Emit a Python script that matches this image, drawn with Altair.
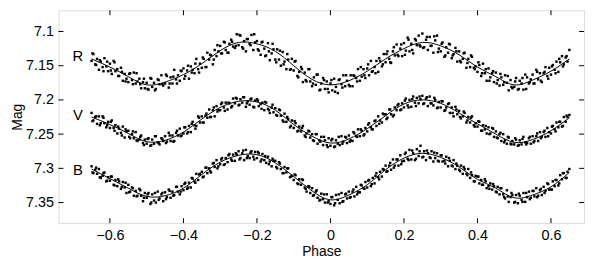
import altair as alt
import pandas as pd

# ---------------- data ----------------
PHASE = [
-0.650,-0.645,-0.640,-0.635,-0.630,-0.625,-0.620,-0.615,-0.610,-0.605,
-0.600,-0.595,-0.590,-0.585,-0.580,-0.575,-0.570,-0.565,-0.560,-0.555,
-0.550,-0.545,-0.540,-0.535,-0.530,-0.525,-0.520,-0.515,-0.510,-0.505,
-0.500,-0.495,-0.490,-0.485,-0.480,-0.475,-0.470,-0.465,-0.460,-0.455,
-0.450,-0.445,-0.440,-0.435,-0.430,-0.425,-0.420,-0.415,-0.410,-0.405,
-0.400,-0.395,-0.390,-0.385,-0.380,-0.375,-0.370,-0.365,-0.360,-0.355,
-0.350,-0.345,-0.340,-0.335,-0.330,-0.325,-0.320,-0.315,-0.310,-0.305,
-0.300,-0.295,-0.290,-0.285,-0.280,-0.275,-0.270,-0.265,-0.260,-0.255,
-0.250,-0.245,-0.240,-0.235,-0.230,-0.225,-0.220,-0.215,-0.210,-0.205,
-0.200,-0.195,-0.190,-0.185,-0.180,-0.175,-0.170,-0.165,-0.160,-0.155,
-0.150,-0.145,-0.140,-0.135,-0.130,-0.125,-0.120,-0.115,-0.110,-0.105,
-0.100,-0.095,-0.090,-0.085,-0.080,-0.075,-0.070,-0.065,-0.060,-0.055,
-0.050,-0.045,-0.040,-0.035,-0.030,-0.025,-0.020,-0.015,-0.010,-0.005,
0.000,0.005,0.010,0.015,0.020,0.025,0.030,0.035,0.040,0.045,
0.050,0.055,0.060,0.065,0.070,0.075,0.080,0.085,0.090,0.095,
0.100,0.105,0.110,0.115,0.120,0.125,0.130,0.135,0.140,0.145,
0.150,0.155,0.160,0.165,0.170,0.175,0.180,0.185,0.190,0.195,
0.200,0.205,0.210,0.215,0.220,0.225,0.230,0.235,0.240,0.245,
0.250,0.255,0.260,0.265,0.270,0.275,0.280,0.285,0.290,0.295,
0.300,0.305,0.310,0.315,0.320,0.325,0.330,0.335,0.340,0.345,
0.350,0.355,0.360,0.365,0.370,0.375,0.380,0.385,0.390,0.395,
0.400,0.405,0.410,0.415,0.420,0.425,0.430,0.435,0.440,0.445,
0.450,0.455,0.460,0.465,0.470,0.475,0.480,0.485,0.490,0.495,
0.500,0.505,0.510,0.515,0.520,0.525,0.530,0.535,0.540,0.545,
0.550,0.555,0.560,0.565,0.570,0.575,0.580,0.585,0.590,0.595,
0.600,0.605,0.610,0.615,0.620,0.625,0.630,0.635,0.640,0.645,
0.650]

R_MAG = [
7.143,7.133,7.148,7.140,7.156,7.144,7.152,7.139,7.151,7.158,
7.147,7.162,7.143,7.158,7.155,7.165,7.153,7.172,7.162,7.169,
7.174,7.161,7.171,7.160,7.176,7.173,7.169,7.183,7.174,7.183,
7.175,7.185,7.168,7.181,7.175,7.184,7.170,7.177,7.164,7.179,
7.176,7.165,7.182,7.167,7.176,7.156,7.170,7.164,7.172,7.158,
7.154,7.165,7.157,7.169,7.151,7.156,7.161,7.140,7.155,7.147,
7.153,7.140,7.152,7.131,7.141,7.135,7.148,7.127,7.136,7.129,
7.121,7.132,7.115,7.127,7.131,7.118,7.112,7.122,7.124,7.104,
7.120,7.106,7.123,7.114,7.129,7.111,7.118,7.105,7.127,7.116,
7.114,7.128,7.134,7.115,7.125,7.135,7.117,7.142,7.132,7.126,
7.141,7.126,7.141,7.150,7.130,7.144,7.155,7.141,7.156,7.140,
7.157,7.143,7.165,7.159,7.152,7.174,7.160,7.173,7.155,7.173,
7.180,7.167,7.178,7.163,7.186,7.176,7.168,7.184,7.173,7.189,
7.176,7.186,7.169,7.181,7.190,7.170,7.177,7.164,7.180,7.172,
7.178,7.164,7.180,7.165,7.168,7.155,7.172,7.166,7.155,7.168,
7.154,7.164,7.143,7.158,7.152,7.143,7.159,7.143,7.151,7.133,
7.145,7.129,7.140,7.146,7.129,7.135,7.119,7.136,7.125,7.136,
7.117,7.128,7.109,7.129,7.118,7.132,7.111,7.120,7.106,7.122,
7.103,7.123,7.112,7.127,7.108,7.121,7.131,7.113,7.106,7.125,
7.129,7.116,7.137,7.123,7.131,7.119,7.139,7.133,7.124,7.144,
7.129,7.145,7.140,7.131,7.153,7.140,7.152,7.137,7.153,7.151,
7.159,7.149,7.165,7.147,7.161,7.172,7.154,7.167,7.161,7.174,
7.160,7.171,7.179,7.167,7.178,7.164,7.175,7.186,7.171,7.183,
7.181,7.168,7.185,7.172,7.176,7.185,7.163,7.167,7.176,7.170,
7.163,7.176,7.156,7.170,7.161,7.174,7.161,7.152,7.165,7.153,
7.163,7.149,7.156,7.144,7.159,7.145,7.136,7.148,7.138,7.144,
7.127]

V_MAG = [
7.219,7.230,7.225,7.235,7.224,7.234,7.224,7.234,7.240,7.232,
7.241,7.230,7.241,7.237,7.249,7.242,7.248,7.239,7.255,7.246,
7.245,7.256,7.250,7.256,7.247,7.260,7.258,7.252,7.263,7.258,
7.264,7.256,7.267,7.258,7.264,7.253,7.262,7.265,7.256,7.260,
7.253,7.261,7.248,7.260,7.252,7.260,7.248,7.252,7.242,7.252,
7.249,7.240,7.249,7.238,7.247,7.232,7.237,7.238,7.224,7.233,
7.224,7.233,7.223,7.226,7.214,7.225,7.215,7.224,7.209,7.215,
7.215,7.204,7.211,7.204,7.214,7.205,7.211,7.198,7.205,7.198,
7.208,7.199,7.204,7.196,7.210,7.202,7.207,7.198,7.210,7.201,
7.199,7.209,7.206,7.204,7.215,7.204,7.213,7.219,7.211,7.218,
7.212,7.223,7.214,7.223,7.230,7.220,7.232,7.228,7.240,7.230,
7.241,7.234,7.246,7.239,7.246,7.238,7.252,7.249,7.245,7.255,
7.250,7.260,7.250,7.264,7.259,7.254,7.266,7.259,7.266,7.256,
7.267,7.257,7.269,7.259,7.264,7.266,7.253,7.261,7.254,7.263,
7.252,7.259,7.260,7.249,7.253,7.243,7.253,7.245,7.252,7.241,
7.246,7.234,7.240,7.243,7.231,7.238,7.224,7.230,7.233,7.221,
7.221,7.226,7.214,7.221,7.224,7.211,7.215,7.206,7.215,7.205,
7.211,7.198,7.208,7.200,7.210,7.195,7.204,7.197,7.205,7.199,
7.194,7.205,7.198,7.209,7.195,7.205,7.208,7.200,7.212,7.203,
7.211,7.202,7.216,7.211,7.206,7.219,7.211,7.224,7.210,7.221,
7.216,7.227,7.224,7.219,7.233,7.225,7.233,7.224,7.237,7.234,
7.239,7.232,7.245,7.237,7.243,7.249,7.240,7.249,7.241,7.254,
7.246,7.256,7.250,7.260,7.250,7.259,7.264,7.255,7.264,7.260,
7.265,7.258,7.267,7.259,7.265,7.254,7.262,7.263,7.256,7.264,
7.253,7.260,7.253,7.260,7.247,7.254,7.247,7.254,7.241,7.247,
7.249,7.238,7.243,7.233,7.240,7.232,7.239,7.225,7.232,7.225,
7.222]

B_MAG = [
7.297,7.307,7.302,7.308,7.301,7.314,7.311,7.306,7.319,7.313,
7.318,7.312,7.324,7.317,7.326,7.319,7.330,7.320,7.328,7.336,
7.324,7.334,7.328,7.340,7.333,7.340,7.330,7.340,7.348,7.336,
7.343,7.336,7.352,7.338,7.347,7.350,7.334,7.344,7.338,7.348,
7.335,7.342,7.331,7.343,7.334,7.339,7.327,7.334,7.338,7.326,
7.332,7.321,7.330,7.321,7.328,7.315,7.319,7.308,7.317,7.308,
7.305,7.312,7.299,7.307,7.300,7.306,7.293,7.298,7.288,7.297,
7.294,7.285,7.295,7.285,7.291,7.279,7.287,7.280,7.289,7.280,
7.275,7.285,7.278,7.288,7.273,7.282,7.285,7.275,7.283,7.276,
7.285,7.278,7.290,7.279,7.288,7.292,7.283,7.290,7.297,7.289,
7.289,7.300,7.291,7.301,7.307,7.298,7.306,7.300,7.313,7.311,
7.317,7.310,7.322,7.316,7.324,7.317,7.328,7.334,7.326,7.336,
7.329,7.339,7.334,7.343,7.347,7.337,7.345,7.350,7.338,7.348,
7.352,7.342,7.354,7.339,7.346,7.351,7.336,7.348,7.338,7.344,
7.334,7.342,7.334,7.341,7.327,7.335,7.335,7.325,7.329,7.320,
7.328,7.317,7.326,7.314,7.322,7.307,7.313,7.305,7.312,7.302,
7.296,7.304,7.296,7.302,7.287,7.296,7.287,7.296,7.281,7.290,
7.289,7.277,7.286,7.273,7.287,7.278,7.288,7.272,7.282,7.267,
7.284,7.275,7.288,7.278,7.284,7.275,7.290,7.285,7.278,7.290,
7.281,7.290,7.289,7.283,7.297,7.289,7.296,7.288,7.301,7.296,
7.302,7.296,7.308,7.301,7.308,7.301,7.314,7.310,7.319,7.311,
7.312,7.322,7.317,7.324,7.316,7.329,7.326,7.322,7.331,7.326,
7.334,7.327,7.338,7.329,7.338,7.344,7.332,7.349,7.342,7.339,
7.350,7.339,7.351,7.340,7.346,7.336,7.349,7.342,7.334,7.343,
7.333,7.341,7.329,7.340,7.332,7.339,7.327,7.333,7.322,7.331,
7.331,7.319,7.326,7.317,7.325,7.310,7.316,7.307,7.314,7.305,
7.301]

# second batch of observations, between the first ones
PHASE2 = [
-0.6475,-0.6375,-0.6275,-0.6175,-0.6075, -0.5975,-0.5875,-0.5775,-0.5675,-0.5575,
-0.5475,-0.5375,-0.5275,-0.5175,-0.5075, -0.4975,-0.4875,-0.4775,-0.4675,-0.4575,
-0.4475,-0.4375,-0.4275,-0.4175,-0.4075, -0.3975,-0.3875,-0.3775,-0.3675,-0.3575,
-0.3475,-0.3375,-0.3275,-0.3175,-0.3075, -0.2975,-0.2875,-0.2775,-0.2675,-0.2575,
-0.2475,-0.2375,-0.2275,-0.2175,-0.2075, -0.1975,-0.1875,-0.1775,-0.1675,-0.1575,
-0.1475,-0.1375,-0.1275,-0.1175,-0.1075, -0.0975,-0.0875,-0.0775,-0.0675,-0.0575,
-0.0475,-0.0375,-0.0275,-0.0175,-0.0075, 0.0025,0.0125,0.0225,0.0325,0.0425,
0.0525,0.0625,0.0725,0.0825,0.0925, 0.1025,0.1125,0.1225,0.1325,0.1425,
0.1525,0.1625,0.1725,0.1825,0.1925, 0.2025,0.2125,0.2225,0.2325,0.2425,
0.2525,0.2625,0.2725,0.2825,0.2925, 0.3025,0.3125,0.3225,0.3325,0.3425,
0.3525,0.3625,0.3725,0.3825,0.3925, 0.4025,0.4125,0.4225,0.4325,0.4425,
0.4525,0.4625,0.4725,0.4825,0.4925, 0.5025,0.5125,0.5225,0.5325,0.5425,
0.5525,0.5625,0.5725,0.5825,0.5925, 0.6025,0.6125,0.6225,0.6325,0.6425]

R_MAG2 = [
7.132,7.149,7.142,7.158,7.144, 7.157,7.145,7.165,7.159,7.173,
7.162,7.177,7.161,7.177,7.169, 7.184,7.169,7.186,7.171,7.177,
7.163,7.176,7.166,7.176,7.157, 7.169,7.150,7.160,7.147,7.160,
7.138,7.152,7.134,7.141,7.120, 7.132,7.116,7.131,7.115,7.121,
7.105,7.125,7.111,7.120,7.104, 7.126,7.116,7.136,7.129,7.118,
7.145,7.128,7.148,7.133,7.155, 7.144,7.167,7.155,7.171,7.155,
7.176,7.163,7.185,7.171,7.184, 7.171,7.188,7.171,7.182,7.164,
7.180,7.164,7.173,7.152,7.164, 7.148,7.159,7.161,7.139,7.148,
7.133,7.145,7.123,7.134,7.119, 7.134,7.112,7.127,7.113,7.120,
7.124,7.108,7.121,7.107,7.130, 7.118,7.135,7.118,7.135,7.129,
7.143,7.132,7.146,7.135,7.155, 7.145,7.161,7.155,7.172,7.158,
7.176,7.162,7.174,7.165,7.181, 7.173,7.184,7.168,7.184,7.174,
7.176,7.159,7.172,7.159,7.169, 7.151,7.161,7.140,7.151,7.136]

V_MAG2 = [
7.231,7.224,7.237,7.226,7.237, 7.232,7.245,7.239,7.252,7.243,
7.254,7.246,7.259,7.254,7.266, 7.257,7.266,7.253,7.263,7.257,
7.263,7.252,7.261,7.245,7.253, 7.240,7.247,7.235,7.242,7.226,
7.233,7.220,7.225,7.211,7.217, 7.206,7.216,7.204,7.209,7.197,
7.207,7.196,7.205,7.199,7.211, 7.201,7.213,7.203,7.215,7.207,
7.222,7.215,7.232,7.225,7.238, 7.231,7.245,7.241,7.254,7.246,
7.259,7.250,7.261,7.254,7.269, 7.259,7.268,7.254,7.264,7.255,
7.261,7.247,7.254,7.243,7.250, 7.236,7.243,7.230,7.235,7.220,
7.228,7.214,7.222,7.208,7.214, 7.201,7.211,7.199,7.209,7.195,
7.206,7.196,7.205,7.197,7.211, 7.202,7.215,7.205,7.219,7.214,
7.225,7.217,7.230,7.226,7.239, 7.231,7.245,7.238,7.250,7.242,
7.255,7.248,7.262,7.254,7.265, 7.256,7.266,7.257,7.265,7.254,
7.262,7.249,7.256,7.245,7.253, 7.239,7.246,7.232,7.238,7.223]

B_MAG2 = [
7.306,7.299,7.313,7.307,7.318, 7.312,7.325,7.316,7.327,7.321,
7.335,7.329,7.341,7.332,7.343, 7.338,7.350,7.336,7.346,7.336,
7.345,7.333,7.340,7.327,7.334, 7.323,7.328,7.314,7.321,7.309,
7.313,7.299,7.304,7.292,7.300, 7.287,7.294,7.281,7.289,7.278,
7.287,7.274,7.285,7.277,7.287, 7.276,7.287,7.282,7.294,7.286,
7.298,7.293,7.307,7.300,7.312, 7.309,7.323,7.316,7.330,7.327,
7.340,7.332,7.346,7.338,7.350, 7.342,7.351,7.338,7.349,7.337,
7.343,7.331,7.338,7.324,7.330, 7.318,7.323,7.311,7.316,7.301,
7.305,7.292,7.299,7.287,7.294, 7.279,7.288,7.274,7.286,7.275,
7.283,7.274,7.285,7.277,7.289, 7.281,7.293,7.285,7.297,7.293,
7.304,7.298,7.310,7.306,7.319, 7.312,7.324,7.319,7.330,7.323,
7.335,7.329,7.342,7.341,7.336, 7.349,7.337,7.349,7.336,7.345,
7.333,7.342,7.330,7.336,7.323, 7.331,7.317,7.322,7.307,7.314]

CURVE_PHASE = [-0.65, -0.60, -0.55, -0.50, -0.45, -0.40, -0.35, -0.30, -0.25,
               -0.20, -0.15, -0.10, -0.05, 0.00, 0.05, 0.10, 0.15, 0.20, 0.25,
               0.30, 0.35, 0.40, 0.45, 0.50, 0.55, 0.60, 0.65]
R_CURVE = [7.140, 7.152, 7.166, 7.178, 7.174, 7.163, 7.147, 7.128, 7.116,
           7.118, 7.129, 7.150, 7.170, 7.178, 7.172, 7.158, 7.140, 7.125, 7.116,
           7.121, 7.134, 7.152, 7.166, 7.178, 7.171, 7.158, 7.140]
V_CURVE = [7.225, 7.236, 7.249, 7.261, 7.259, 7.247, 7.228, 7.211, 7.202,
           7.203, 7.215, 7.236, 7.253, 7.263, 7.257, 7.242, 7.223, 7.206, 7.200,
           7.205, 7.219, 7.235, 7.250, 7.262, 7.258, 7.245, 7.226]
B_CURVE = [7.301, 7.315, 7.329, 7.341, 7.340, 7.329, 7.309, 7.291, 7.281,
           7.280, 7.292, 7.312, 7.333, 7.346, 7.339, 7.324, 7.302, 7.285, 7.278,
           7.284, 7.298, 7.316, 7.329, 7.343, 7.339, 7.327, 7.306]

BANDS = ["R", "V", "B"]
LABEL_PHASE = [-0.687, -0.687, -0.687]
LABEL_MAG = [7.1353, 7.2223, 7.3018]

X_TICKS = [-0.6, -0.4, -0.2, 0.0, 0.2, 0.4, 0.6]
Y_TICKS = [7.1, 7.15, 7.2, 7.25, 7.3, 7.35]

# ---------------- tables ----------------
pts = pd.concat(
    [pd.DataFrame({"phase": PHASE, "mag": m, "band": b})
     for b, m in zip(BANDS, [R_MAG, V_MAG, B_MAG])] +
    [pd.DataFrame({"phase": PHASE2, "mag": m, "band": b})
     for b, m in zip(BANDS, [R_MAG2, V_MAG2, B_MAG2])]
)
curves = pd.concat([
    pd.DataFrame({"phase": CURVE_PHASE, "mag": m, "band": b})
    for b, m in zip(BANDS, [R_CURVE, V_CURVE, B_CURVE])
])
labels = pd.DataFrame({"phase": LABEL_PHASE, "mag": LABEL_MAG, "band": BANDS})
xt = pd.DataFrame({"phase": X_TICKS})
yt = pd.DataFrame({"mag": Y_TICKS})

W, H = 531, 215
FONT = "Liberation Sans"

xs = alt.Scale(domain=[-0.74, 0.69], nice=False, zero=False)
ys = alt.Scale(domain=[7.069, 7.380], nice=False, zero=False, reverse=True)
xa = alt.Axis(title="Phase", values=X_TICKS, format="~g", tickSize=0,
              labelPadding=6, titlePadding=2, grid=False, domain=False,
              labelFontSize=14.5, titleFontSize=14, labelFont=FONT, titleFont=FONT,
              titleFontWeight="normal", labelColor="black", titleColor="black")
ya = alt.Axis(title="Mag", values=Y_TICKS, format="~g", tickSize=0,
              labelPadding=5, titlePadding=1, grid=False, domain=False,
              labelFontSize=14.5, titleFontSize=14, labelFont=FONT, titleFont=FONT,
              titleFontWeight="normal", labelColor="black", titleColor="black")
X = alt.X("phase:Q", scale=xs, axis=xa)
Y = alt.Y("mag:Q", scale=ys, axis=ya)

points = alt.Chart(pts).mark_square(size=6, color="black", opacity=1).encode(
    x=X, y=Y)
lines = alt.Chart(curves).mark_line(color="black", strokeWidth=1,
                                    interpolate="natural").encode(
    x=X, y=Y, detail="band:N")
texts = alt.Chart(labels).mark_text(fontSize=15, font=FONT, color="black",
                                    align="center", baseline="middle").encode(
    x=X, y=Y, text="band:N")

TL = 5
tick_b = alt.Chart(xt).mark_rule(color="black", strokeWidth=1).encode(
    x=X, y=alt.value(H - TL), y2=alt.value(H))
tick_t = alt.Chart(xt).mark_rule(color="black", strokeWidth=1).encode(
    x=X, y=alt.value(0), y2=alt.value(TL))
tick_l = alt.Chart(yt).mark_rule(color="black", strokeWidth=1).encode(
    y=Y, x=alt.value(0), x2=alt.value(TL))
tick_r = alt.Chart(yt).mark_rule(color="black", strokeWidth=1).encode(
    y=Y, x=alt.value(W - TL), x2=alt.value(W))

chart = alt.layer(points, lines, texts, tick_b, tick_t, tick_l, tick_r).properties(
    width=W, height=H,
    autosize=alt.AutoSizeParams(type="none"),
    padding={"left": 51, "top": 1, "right": 6, "bottom": 38},
).configure_view(stroke="black", strokeWidth=1).configure(background="white")

chart.save("out.html", embed_options={"renderer": "svg", "actions": False})
